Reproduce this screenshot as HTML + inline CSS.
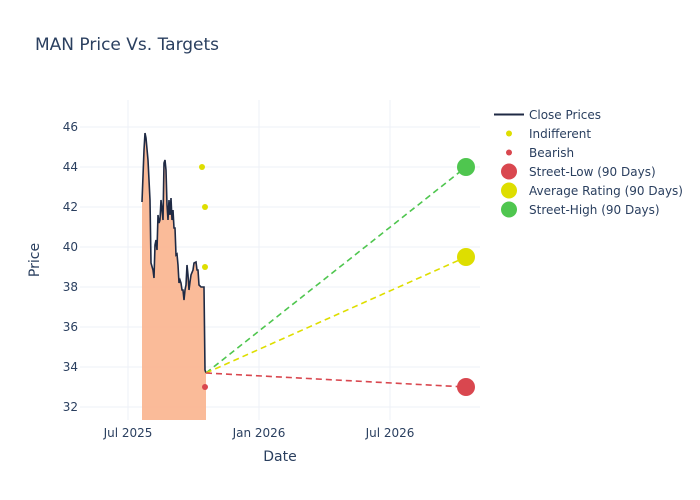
<!DOCTYPE html>
<html><head><meta charset="utf-8"><style>
body{margin:0;background:#fff}
svg{display:block;font-family:"DejaVu Sans",sans-serif}
</style></head><body>
<svg width="700" height="500" viewBox="0 0 700 500">
<rect width="700" height="500" fill="#fff"/>
<text x="35" y="50" font-size="17" fill="#2a3f5f">MAN Price Vs. Targets</text>
<g stroke="#eef1f7" stroke-width="1">
<line x1="80" x2="480" y1="127" y2="127"/><line x1="80" x2="480" y1="167" y2="167"/>
<line x1="80" x2="480" y1="207" y2="207"/><line x1="80" x2="480" y1="247" y2="247"/>
<line x1="80" x2="480" y1="287" y2="287"/><line x1="80" x2="480" y1="327" y2="327"/>
<line x1="80" x2="480" y1="367" y2="367"/><line x1="80" x2="480" y1="407" y2="407"/>
<line x1="128" x2="128" y1="100" y2="420"/><line x1="259" x2="259" y1="100" y2="420"/>
<line x1="390" x2="390" y1="100" y2="420"/>
</g>
<g font-size="12" fill="#2a3f5f" text-anchor="end">
<text x="78" y="131">46</text><text x="78" y="171">44</text><text x="78" y="211">42</text>
<text x="78" y="251">40</text><text x="78" y="291">38</text><text x="78" y="331">36</text>
<text x="78" y="371">34</text><text x="78" y="411">32</text>
</g>
<g font-size="12" fill="#2a3f5f" text-anchor="middle">
<text x="128" y="437">Jul 2025</text><text x="259" y="437">Jan 2026</text><text x="390" y="437">Jul 2026</text>
</g>
<text x="280" y="461" font-size="14" fill="#2a3f5f" text-anchor="middle">Date</text>
<text x="39" y="260" font-size="14" fill="#2a3f5f" text-anchor="middle" transform="rotate(-90 39 260)">Price</text>
<polygon fill="#f9b48e" fill-opacity="0.9" points="142,420 142,202 144,150 145,133 146,138 148,160 150,200 151,263 153,270 154,278 155,245 156,240 157,250 158,215 159,223 160,220 161,200 162,210 163,220 164,163 165,160 166,170 167,205 168,220 169,200 170,215 171,198 172,220 173,210 174,228 175,228 176,255 177,254 178,265 179,283 180,280 181,283 182,290 183,290 184,300 185,290 186,285 187,265 188,275 189,290 190,282 191,275 193,270 194,263 196,262 197,270 198,270 199,285 201,287 204,287 205,370 206,373 206,420"/>
<polyline fill="none" stroke="#1f2a44" stroke-width="1.6" points="142,202 144,150 145,133 146,138 148,160 150,200 151,263 153,270 154,278 155,245 156,240 157,250 158,215 159,223 160,220 161,200 162,210 163,220 164,163 165,160 166,170 167,205 168,220 169,200 170,215 171,198 172,220 173,210 174,228 175,228 176,255 177,254 178,265 179,283 180,280 181,283 182,290 183,290 184,300 185,290 186,285 187,265 188,275 189,290 190,282 191,275 193,270 194,263 196,262 197,270 198,270 199,285 201,287 204,287 205,370 206,373"/>
<g stroke-width="1.6" stroke-dasharray="6,4" fill="none">
<line x1="206" y1="373" x2="466" y2="167" stroke="#4fc64f"/>
<line x1="206" y1="373" x2="466" y2="257" stroke="#dede00"/>
<line x1="206" y1="373" x2="466" y2="387" stroke="#d9474f"/>
</g>
<circle cx="202" cy="167" r="3" fill="#dede00"/>
<circle cx="205" cy="207" r="3" fill="#dede00"/>
<circle cx="205" cy="267" r="3" fill="#dede00"/>
<circle cx="205" cy="387" r="3" fill="#d9474f"/>
<circle cx="466" cy="167" r="9" fill="#4fc64f"/>
<circle cx="466" cy="257" r="9" fill="#dede00"/>
<circle cx="466" cy="387" r="9" fill="#d9474f"/>
<g font-size="12" fill="#2a3f5f">
<line x1="494" x2="524" y1="114.5" y2="114.5" stroke="#1f2a44" stroke-width="2"/>
<text x="529" y="119">Close Prices</text>
<circle cx="509" cy="133.5" r="3" fill="#dede00"/><text x="529" y="138">Indifferent</text>
<circle cx="509" cy="152.5" r="3" fill="#d9474f"/><text x="529" y="157">Bearish</text>
<circle cx="509" cy="171.5" r="8" fill="#d9474f"/><text x="529" y="176">Street-Low (90 Days)</text>
<circle cx="509" cy="190.5" r="8" fill="#dede00"/><text x="529" y="195">Average Rating (90 Days)</text>
<circle cx="509" cy="209.5" r="8" fill="#4fc64f"/><text x="529" y="214">Street-High (90 Days)</text>
</g>
</svg>
</body></html>
